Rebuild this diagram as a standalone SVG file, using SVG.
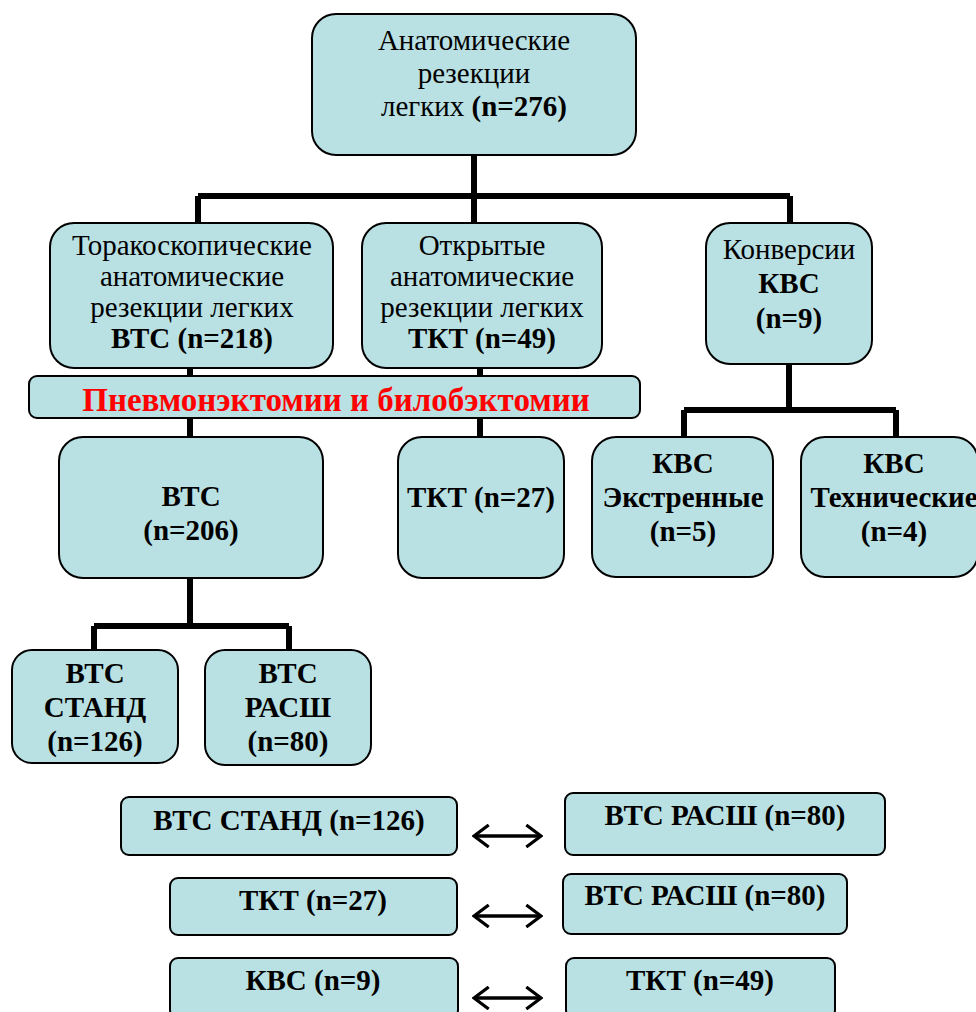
<svg xmlns="http://www.w3.org/2000/svg" width="976" height="1012" viewBox="0 0 976 1012" font-family="'Liberation Serif', 'Times New Roman', serif">
<style>
.box{fill:#b9e0e3;stroke:#000;stroke-width:2}
text{font-family:'Liberation Serif','Times New Roman',Times,serif;font-size:29px;fill:#000;text-anchor:middle}
.b{font-weight:bold}
.red{fill:#ff0000;font-weight:bold;font-size:33px}
.conn{fill:none;stroke:#000;stroke-width:6}
.arr{fill:none;stroke:#000;stroke-width:3.5}
</style>
<defs>
<marker id="ah" viewBox="0 0 10 10" refX="9" refY="5" markerWidth="7" markerHeight="7" orient="auto-start-reverse" markerUnits="strokeWidth">
<path d="M3,0.5 L9,5 L3,9.5" fill="none" stroke="#000" stroke-width="1.3"/>
</marker>
</defs>
<rect width="976" height="1012" fill="#fff"/>
<g id="connectors">
<path class="conn" d="M474,155 V196 M198,196 H790 M198,196 V224 M474,196 V224 M790,196 V224"/>
<path class="conn" d="M190,368 V377 M480,368 V377 M190,417 V438 M480,417 V438"/>
<path class="conn" d="M789,364 V410 M684,410 H896 M684,410 V438 M896,410 V438"/>
<path class="conn" d="M190,578 V626 M94,626 H289 M94,626 V651 M289,626 V651"/>
</g>
<g id="n-root"><rect class="box" x="312" y="14" width="324" height="141" rx="24"/>
<text x="474" y="50">Анатомические</text><text x="474" y="83">резекции</text><text x="474" y="116">легких <tspan class="b">(n=276)</tspan></text></g>
<g id="n-vts"><rect class="box" x="50" y="223" width="283" height="145" rx="24"/>
<text x="192" y="255">Торакоскопические</text><text x="192" y="286">анатомические</text><text x="192" y="317">резекции легких</text><text class="b" x="192" y="348">ВТС (n=218)</text></g>
<g id="n-tkt"><rect class="box" x="362" y="223" width="240" height="145" rx="24"/>
<text x="482" y="255">Открытые</text><text x="482" y="286">анатомические</text><text x="482" y="317">резекции легких</text><text class="b" x="482" y="348">ТКТ (n=49)</text></g>
<g id="n-kvs"><rect class="box" x="706" y="223" width="166" height="141" rx="24"/>
<text x="789" y="259">Конверсии</text><text class="b" x="789" y="293">КВС</text><text class="b" x="789" y="328">(n=9)</text></g>
<g id="n-banner"><rect class="box" x="29" y="376" width="611" height="42" rx="8"/>
<text class="red" x="336" y="411">Пневмонэктомии и билобэктомии</text></g>
<g id="n-vts206"><rect class="box" x="59" y="437" width="264" height="141" rx="24"/>
<text class="b" x="191" y="506">ВТС</text><text class="b" x="191" y="540">(n=206)</text></g>
<g id="n-tkt27"><rect class="box" x="398" y="437" width="166" height="141" rx="24"/>
<text class="b" x="481" y="507">ТКТ (n=27)</text></g>
<g id="n-kvs5"><rect class="box" x="592" y="437" width="181" height="140" rx="24"/>
<text class="b" x="683" y="473">КВС</text><text class="b" x="683" y="507">Экстренные</text><text class="b" x="683" y="541">(n=5)</text></g>
<g id="n-kvs4"><rect class="box" x="801" y="437" width="177" height="140" rx="24"/>
<text class="b" x="894" y="473">КВС</text><text class="b" x="894" y="507">Технические</text><text class="b" x="894" y="541">(n=4)</text></g>
<g id="n-stand"><rect class="box" x="12" y="650" width="166" height="113" rx="20"/>
<text class="b" x="95" y="683">ВТС</text><text class="b" x="95" y="717">СТАНД</text><text class="b" x="95" y="751">(n=126)</text></g>
<g id="n-rash"><rect class="box" x="205" y="650" width="166" height="115" rx="20"/>
<text class="b" x="288" y="683">ВТС</text><text class="b" x="288" y="717">РАСШ</text><text class="b" x="288" y="751">(n=80)</text></g>
<g id="n-p1l"><rect class="box" x="121" y="797" width="336" height="58" rx="8"/>
<text class="b" x="289" y="830">ВТС СТАНД (n=126)</text></g>
<g id="n-p1r"><rect class="box" x="565" y="793" width="320" height="62" rx="8"/>
<text class="b" x="725" y="825">ВТС РАСШ (n=80)</text></g>
<g id="n-p2l"><rect class="box" x="170" y="878" width="287" height="57" rx="8"/>
<text class="b" x="313" y="910">ТКТ (n=27)</text></g>
<g id="n-p2r"><rect class="box" x="563" y="874" width="284" height="60" rx="8"/>
<text class="b" x="705" y="905">ВТС РАСШ (n=80)</text></g>
<g id="n-p3l"><rect class="box" x="170" y="958" width="288" height="60" rx="8"/>
<text class="b" x="313" y="990">КВС (n=9)</text></g>
<g id="n-p3r"><rect class="box" x="566" y="958" width="269" height="60" rx="8"/>
<text class="b" x="700" y="990">ТКТ (n=49)</text></g>
<g id="arrows">
<line class="arr" x1="474" y1="836" x2="541" y2="836" marker-start="url(#ah)" marker-end="url(#ah)"/>
<line class="arr" x1="474" y1="916" x2="541" y2="916" marker-start="url(#ah)" marker-end="url(#ah)"/>
<line class="arr" x1="474" y1="998" x2="541" y2="998" marker-start="url(#ah)" marker-end="url(#ah)"/>
</g>
</svg>
